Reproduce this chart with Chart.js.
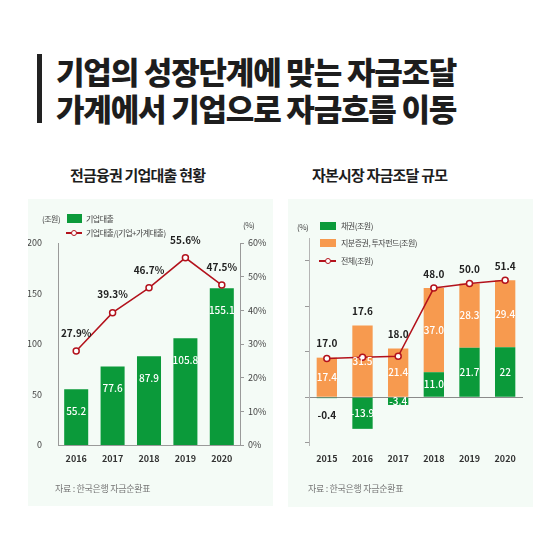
<!DOCTYPE html>
<html>
<head>
<meta charset="utf-8">
<script src="https://cdn.jsdelivr.net/npm/chart.js"></script>
<style>
  body { margin: 0; background: #fff; font-family: "Noto Sans CJK KR", "Noto Sans", sans-serif; }
  #wrap { position: relative; width: 560px; height: 560px; overflow: hidden; }
  .abs { position: absolute; white-space: nowrap; }
  .bar { left: 37px; top: 54px; width: 5px; height: 69px; background: #222; }
  .title { left: 56px; font-size: 31px; font-weight: 900; color: #1d1d1d; letter-spacing: -1.2px; line-height: 1; }
  .sub { font-size: 15px; font-weight: 700; color: #1d1d1d; letter-spacing: -0.8px; line-height: 1; }
  .panel { background: #f4fbf6; }
  .lg { font-size: 8px; color: #444; line-height: 1; transform: translateY(-50%); letter-spacing: -0.5px; }
  .box { position: absolute; }
  .src { font-size: 9px; color: #777; line-height: 1; transform: translateY(-50%); letter-spacing: -0.3px; }
  canvas { position: absolute; }
</style>
</head>
<body>
<div id="wrap">
  <div class="abs bar"></div>
  <div class="abs title" style="top:55px">기업의 성장단계에 맞는 자금조달</div>
  <div class="abs title" style="top:92px">가계에서 기업으로 자금흐름 이동</div>
  <div class="abs sub" style="left:70px;top:167px">전금융권 기업대출 현황</div>
  <div class="abs sub" style="left:312px;top:167px">자본시장 자금조달 규모</div>

  <div class="abs panel" style="left:28px;top:199px;width:245px;height:307px"></div>
  <div class="abs panel" style="left:288px;top:199px;width:245px;height:308px"></div>

  <div style="position:absolute;left:28px;top:199px;width:245px;height:307px"><canvas id="c1"></canvas></div>
  <div style="position:absolute;left:288px;top:199px;width:245px;height:308px"><canvas id="c2"></canvas></div>

  <!-- left legend -->
  <div class="abs lg" style="left:42px;top:219px">(조원)</div>
  <div class="box" style="left:67px;top:214px;width:15px;height:9px;background:#0b9a3a"></div>
  <div class="abs lg" style="left:86px;top:219px">기업대출</div>
  <div class="box" style="left:66px;top:232px;width:16px;height:1.5px;background:#b3121c"></div>
  <div class="box" style="left:71px;top:229.5px;width:4px;height:4px;border:1.5px solid #b3121c;border-radius:50%;background:#fff"></div>
  <div class="abs lg" style="left:86px;top:233px">기업대출/(기업+가계대출)</div>
  <div class="abs lg" style="left:243px;top:225px">(%)</div>

  <!-- right legend -->
  <div class="abs lg" style="left:297px;top:227px">(%)</div>
  <div class="box" style="left:320px;top:222px;width:16px;height:8px;background:#0b9a3a"></div>
  <div class="abs lg" style="left:341px;top:226px">채권(조원)</div>
  <div class="box" style="left:320px;top:239px;width:16px;height:8px;background:#f79a4f"></div>
  <div class="abs lg" style="left:341px;top:243px">지분증권, 투자펀드(조원)</div>
  <div class="box" style="left:319px;top:260px;width:17px;height:1.5px;background:#b3121c"></div>
  <div class="box" style="left:324.5px;top:257.5px;width:4px;height:4px;border:1.5px solid #b3121c;border-radius:50%;background:#fff"></div>
  <div class="abs lg" style="left:341px;top:261px">전체(조원)</div>

  <div class="abs src" style="left:55px;top:488px">자료 : 한국은행 자금순환표</div>
  <div class="abs src" style="left:308px;top:488px">자료 : 한국은행 자금순환표</div>
</div>

<script>
// left chart data
let loanYears = ["2016", "2017", "2018", "2019", "2020"];
let loanValues = [55.2, 77.6, 87.9, 105.8, 155.1];
let loanRatio = [27.9, 39.3, 46.7, 55.6, 47.5];

// right chart data
let capYears = ["2015", "2016", "2017", "2018", "2019", "2020"];
let bondValues = [-0.4, -13.9, -3.4, 11.0, 21.7, 22];
let bondText = ["-0.4", "-13.9", "-3.4", "11.0", "21.7", "22"];
let equityValues = [17.4, 31.5, 21.4, 37.0, 28.3, 29.4];
let totalValues = [17.0, 17.6, 18.0, 48.0, 50.0, 51.4];

const GREEN = "#0b9a3a";
const ORANGE = "#f79a4f";
const RED = "#b3121c";
const AXIS = "#9a9a9a";
const FONT = '"Noto Sans CJK KR", "Noto Sans", sans-serif';

Chart.defaults.font.family = FONT;
Chart.defaults.animation = false;

const loanLabels = {
  id: "loanLabels",
  afterDatasetsDraw(chart) {
    const ctx = chart.ctx;
    ctx.save();
    ctx.textAlign = "center";
    ctx.textBaseline = "middle";
    ctx.font = "500 10px " + FONT;
    ctx.fillStyle = "#fff";
    chart.getDatasetMeta(1).data.forEach((el, i) => {
      ctx.fillText(loanValues[i].toFixed(1), el.x, el.y + 22);
    });
    ctx.font = "700 10px " + FONT;
    ctx.fillStyle = "#222";
    chart.getDatasetMeta(0).data.forEach((el, i) => {
      ctx.fillText(loanRatio[i].toFixed(1) + "%", el.x, el.y - 18);
    });
    ctx.restore();
  }
};

new Chart("c1", {
  type: "bar",
  data: {
    labels: loanYears,
    datasets: [{
      type: "line",
      data: loanRatio,
      yAxisID: "y2",
      borderColor: RED,
      borderWidth: 1.5,
      pointRadius: 3,
      pointBorderWidth: 1.5,
      pointBackgroundColor: "#fff",
      pointBorderColor: RED,
      order: 0
    }, {
      data: loanValues,
      yAxisID: "y",
      backgroundColor: GREEN,
      categoryPercentage: 1,
      barPercentage: 0.66,
      order: 1
    }]
  },
  options: {
    responsive: true,
    maintainAspectRatio: false,
    layout: { padding: { top: 44, left: 0, right: 0, bottom: 0 } },
    plugins: { legend: { display: false }, tooltip: { enabled: false } },
    scales: {
      x: {
        grid: { display: false },
        border: { color: AXIS },
        ticks: { color: "#333", font: { size: 9, weight: "600" }, padding: 0 },
        afterFit(s) { s.height = 61; }
      },
      y: {
        min: 0, max: 200,
        ticks: { stepSize: 50, color: "#444", font: { size: 9 }, padding: 8 },
        grid: { display: false },
        border: { color: AXIS },
        afterFit(s) { s.width = 30; }
      },
      y2: {
        position: "right",
        min: 0, max: 60,
        ticks: { stepSize: 10, color: "#444", font: { size: 9 }, padding: 4, callback: v => v + "%" },
        grid: { drawOnChartArea: false, tickLength: 4, color: AXIS },
        border: { color: AXIS },
        afterFit(s) { s.width = 33; }
      }
    }
  },
  plugins: [loanLabels]
});

const capLabels = {
  id: "capLabels",
  afterDatasetsDraw(chart) {
    const ctx = chart.ctx;
    const bond = chart.getDatasetMeta(1).data;
    const eq = chart.getDatasetMeta(2).data;
    const tot = chart.getDatasetMeta(0).data;
    ctx.save();
    ctx.textAlign = "center";
    ctx.textBaseline = "middle";
    ctx.font = "500 10px " + FONT;
    eq.forEach((el, i) => {
      ctx.fillStyle = "#fff";
      ctx.fillText(equityValues[i].toFixed(1), el.x, (el.y + el.base) / 2);
    });
    bond.forEach((el, i) => {
      if (Math.abs(bondValues[i]) < 1) {
        ctx.fillStyle = "#222";
        ctx.font = "600 10px " + FONT;
        ctx.fillText(bondText[i], el.x, el.base + 17);
        ctx.font = "500 10px " + FONT;
      } else {
        ctx.fillStyle = "#fff";
        ctx.fillText(bondText[i], el.x, (el.y + el.base) / 2);
      }
    });
    ctx.font = "700 10px " + FONT;
    ctx.fillStyle = "#222";
    tot.forEach((el, i) => {
      ctx.fillText(totalValues[i].toFixed(1), el.x, Math.min(el.y, eq[i].y) - 14);
    });
    ctx.restore();
  }
};

new Chart("c2", {
  type: "bar",
  data: {
    labels: capYears,
    datasets: [{
      type: "line",
      data: totalValues,
      stack: "total",
      borderColor: RED,
      borderWidth: 1.5,
      pointRadius: 3,
      pointBorderWidth: 1.5,
      pointBackgroundColor: "#fff",
      pointBorderColor: RED,
      order: 0
    }, {
      data: bondValues,
      stack: "bars",
      backgroundColor: GREEN,
      categoryPercentage: 1,
      barPercentage: 0.57,
      order: 1
    }, {
      data: equityValues,
      stack: "bars",
      backgroundColor: ORANGE,
      categoryPercentage: 1,
      barPercentage: 0.57,
      order: 2
    }]
  },
  options: {
    responsive: true,
    maintainAspectRatio: false,
    layout: { padding: { top: 39, left: 0, right: 10, bottom: 0 } },
    plugins: { legend: { display: false }, tooltip: { enabled: false } },
    scales: {
      x: {
        stacked: true,
        grid: { display: false },
        border: { display: false },
        ticks: { color: "#333", font: { size: 9, weight: "600" }, padding: 0 },
        afterFit(s) { s.height = 62; }
      },
      y: {
        stacked: true,
        min: -21, max: 70,
        afterBuildTicks(s) { s.ticks = [-20, 0, 20, 40, 60].map(v => ({ value: v })); },
        ticks: { display: false },
        grid: {
          tickLength: 4,
          tickColor: AXIS,
          color: c => (c.tick && c.tick.value === 0) ? "#8a8a8a" : "transparent"
        },
        border: { color: "#b5b5b5" },
        afterFit(s) { s.width = 21; }
      }
    }
  },
  plugins: [capLabels]
});
</script>
</body>
</html>
